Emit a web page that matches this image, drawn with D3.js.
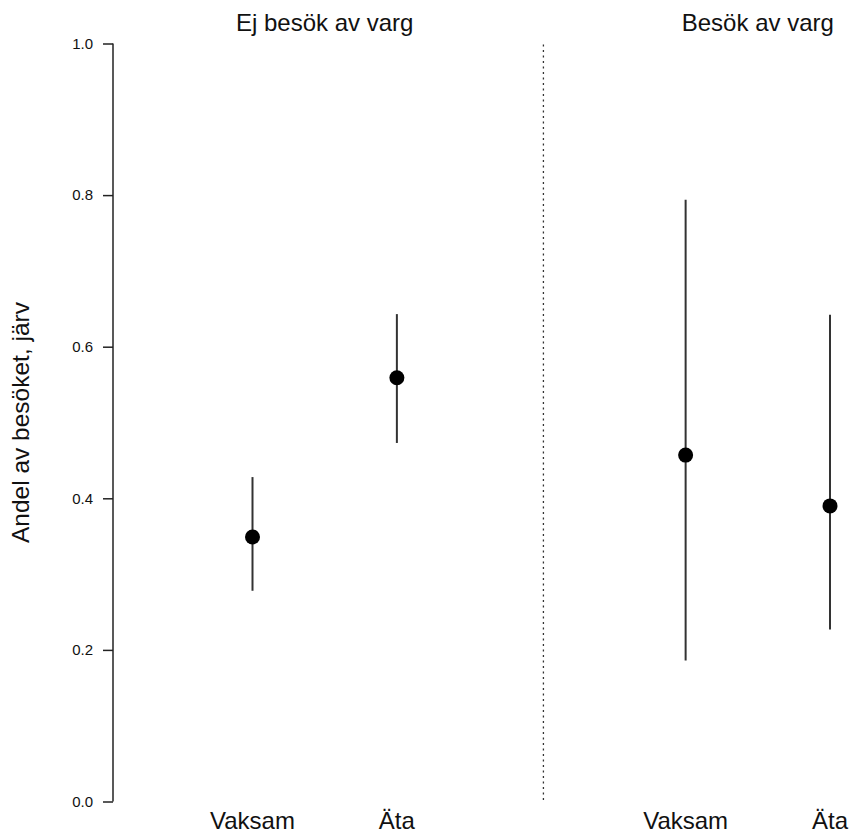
<!DOCTYPE html>
<html>
<head>
<meta charset="utf-8">
<script src="https://cdn.jsdelivr.net/npm/d3@7"></script>
<style>
  body { margin: 0; background: white; }
  text { font-family: "Liberation Sans", Arial, sans-serif; fill: #111; }
</style>
</head>
<body>
<div id="chart"></div>
<script>
// Data
let categories = ["Vaksam", "Äta", "Vaksam", "Äta"];
let positions = [1, 2, 4, 5];
let means = [0.349, 0.559, 0.457, 0.390];
let lower = [0.278, 0.473, 0.186, 0.227];
let upper = [0.428, 0.643, 0.794, 0.642];
let panelTitles = ["Ej besök av varg", "Besök av varg"];
let panelTitlePos = [1.5, 4.5];
let dividerAt = 3.015;
let yTicks = [0, 0.2, 0.4, 0.6, 0.8, 1.0];
let yLabel = "Andel av besöket, järv";

let svg = d3.select("#chart").append("svg")
  .attr("width", 850)
  .attr("height", 833);

svg.append("rect")
  .attr("width", "100%")
  .attr("height", "100%")
  .attr("fill", "white");

let x = d3.scaleLinear().domain([1, 5]).range([252.5, 830]);
let y = d3.scaleLinear().domain([0, 1]).range([801.5, 43.5]);

// y axis
let yAxis = svg.append("g")
  .attr("transform", "translate(113,0)")
  .call(d3.axisLeft(y).tickValues(yTicks).tickFormat(d3.format(".1f")).tickSize(10).tickPadding(10));
yAxis.attr("font-size", 15).attr("font-family", "Liberation Sans, Arial, sans-serif");
yAxis.select(".domain").attr("d", "M0," + y(0) + "V" + y(1)).attr("stroke", "#222").attr("stroke-width", 1.5);
yAxis.selectAll(".tick line").attr("stroke", "#222").attr("stroke-width", 1.5);
yAxis.selectAll(".tick text").attr("fill", "#222");

svg.append("text")
  .attr("transform", "translate(29," + y(0.5) + ")rotate(-90)")
  .attr("text-anchor", "middle")
  .attr("font-size", 24.5)
  .text(yLabel);

// divider
svg.append("line")
  .attr("x1", x(dividerAt)).attr("x2", x(dividerAt))
  .attr("y1", y(1) + 1).attr("y2", y(0) + 2)
  .attr("stroke", "#333")
  .attr("stroke-width", 1.3)
  .attr("stroke-dasharray", "2,3.5");

// panel titles
svg.selectAll(".ptitle")
  .data(panelTitles)
  .enter().append("text")
    .attr("class", "ptitle")
    .attr("x", (d, i) => x(panelTitlePos[i]))
    .attr("y", 31)
    .attr("text-anchor", "middle")
    .attr("font-size", 24)
    .text(d => d);

// category labels
svg.selectAll(".clabel")
  .data(categories)
  .enter().append("text")
    .attr("class", "clabel")
    .attr("x", (d, i) => x(positions[i]))
    .attr("y", 829)
    .attr("text-anchor", "middle")
    .attr("font-size", 24)
    .text(d => d);

// whiskers
svg.selectAll(".ci")
  .data(positions)
  .enter().append("line")
    .attr("class", "ci")
    .attr("x1", d => x(d)).attr("x2", d => x(d))
    .attr("y1", (d, i) => y(lower[i]))
    .attr("y2", (d, i) => y(upper[i]))
    .attr("stroke", "#333")
    .attr("stroke-width", 2);

// points
svg.selectAll(".pt")
  .data(positions)
  .enter().append("circle")
    .attr("class", "pt")
    .attr("cx", d => x(d))
    .attr("cy", (d, i) => y(means[i]))
    .attr("r", 7.5)
    .attr("fill", "black");
</script>
</body>
</html>
